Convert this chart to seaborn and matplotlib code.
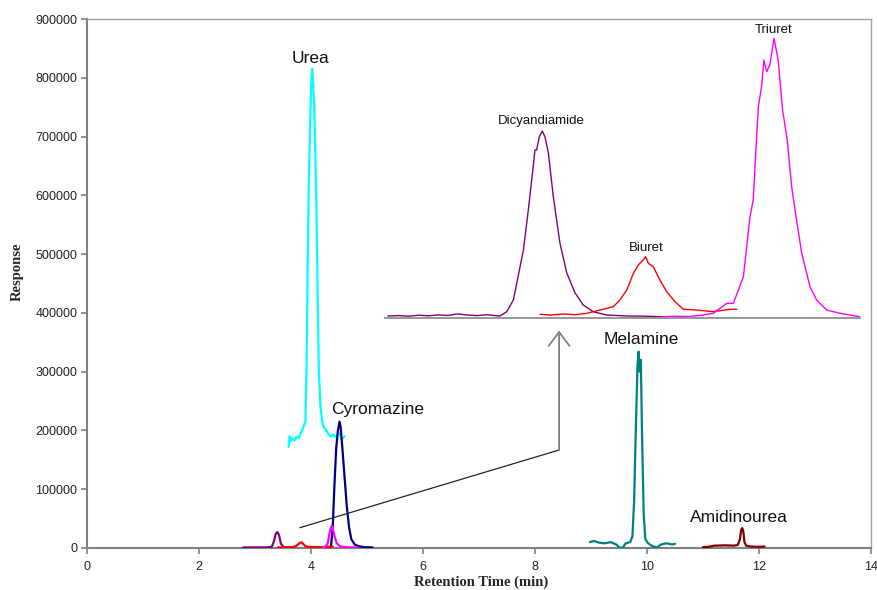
import matplotlib
matplotlib.use("Agg")
import matplotlib.pyplot as plt
import seaborn as sns
import pandas as pd

# ---------------- main chromatogram data (min, response) ----------------
urea_x = [3.60, 3.62, 3.64, 3.66, 3.70, 3.74, 3.78, 3.82, 3.86, 3.90, 3.92, 3.94, 3.96, 3.98,
          4.00, 4.02, 4.04, 4.06, 4.08, 4.10, 4.12, 4.14, 4.17, 4.20, 4.23, 4.27, 4.31, 4.35,
          4.40, 4.45, 4.50, 4.55, 4.60]
urea_y = [172000, 190000, 181000, 187000, 183000, 189000, 187000, 196000, 205000, 215000, 300000,
          480000, 620000, 700000, 780000, 815000, 790000, 740000, 660000, 560000, 420000, 300000,
          240000, 215000, 205000, 200000, 194000, 190000, 193000, 188000, 196000, 185000, 190000]

cyro_x = [4.33, 4.36, 4.39, 4.42, 4.45, 4.48, 4.51, 4.53, 4.56, 4.60, 4.64, 4.68, 4.72, 4.78,
          4.85, 4.95, 5.10]
cyro_y = [0, 5000, 40000, 110000, 170000, 200000, 215000, 205000, 170000, 120000, 70000, 35000,
          15000, 6000, 3000, 1500, 1000]

dicy_x = [2.79, 3.00, 3.20, 3.30, 3.34, 3.37, 3.40, 3.43, 3.46, 3.50, 3.55, 3.62]
dicy_y = [1000, 1000, 1000, 2000, 12000, 24000, 27000, 22000, 8000, 2500, 1000, 1000]

biuret_x = [3.41, 3.55, 3.65, 3.72, 3.77, 3.80, 3.83, 3.86, 3.90, 3.95, 4.05, 4.20, 4.39]
biuret_y = [1000, 1000, 1500, 2500, 6000, 9000, 9500, 7000, 3000, 2000, 1500, 1500, 2500]

triuret_x = [4.21, 4.26, 4.30, 4.33, 4.35, 4.37, 4.39, 4.42, 4.46, 4.52, 4.60, 4.70, 4.84]
triuret_y = [1000, 2500, 8000, 25000, 33000, 38000, 33000, 20000, 8000, 3000, 1500, 1000, 1000]

mel_x = [8.98, 9.05, 9.15, 9.25, 9.35, 9.45, 9.52, 9.57, 9.62, 9.70, 9.74, 9.77, 9.80, 9.83,
         9.85, 9.87, 9.89, 9.91, 9.94, 9.97, 10.02, 10.10, 10.18, 10.25, 10.35, 10.45, 10.50]
mel_y = [10000, 12000, 9000, 8000, 10000, 6000, 0, 1000, 8000, 10000, 20000, 80000, 200000,
         310000, 334000, 300000, 320000, 200000, 60000, 15000, 8000, 3000, 1000, 6000, 8000,
         6000, 7000]

amid_x = [11.00, 11.10, 11.20, 11.40, 11.55, 11.62, 11.66, 11.68, 11.70, 11.72, 11.74, 11.77,
          11.85, 12.00, 12.10]
amid_y = [1500, 2000, 4000, 4500, 4000, 5000, 15000, 30000, 34000, 28000, 10000, 4000, 2500,
          2000, 2500]

# ---------------- inset (zoomed early region) data ----------------
in_dicy_x = [2.775, 2.82, 2.86, 2.90, 2.94, 2.98, 3.02, 3.06, 3.10, 3.14, 3.18, 3.22, 3.232,
             3.260, 3.287, 3.328, 3.348, 3.368, 3.375, 3.382, 3.393, 3.405, 3.416, 3.430,
             3.450, 3.477, 3.505, 3.539, 3.572, 3.613, 3.668, 3.750, 3.82, 3.898]
in_dicy_y = [273, 330, 250, 380, 300, 420, 350, 560, 400, 330, 450, 300, 273, 860, 2457, 9283,
             14744, 20655, 22935, 22935, 24750, 25530, 24750, 22525, 16560, 10239, 6143, 3413,
             1775, 860, 410, 273, 250, 177]

in_biur_x = [3.396, 3.44, 3.49, 3.54, 3.586, 3.641, 3.695, 3.722, 3.750, 3.777, 3.797, 3.817,
             3.827, 3.838, 3.858, 3.885, 3.913, 3.947, 3.981, 4.035, 4.103, 4.171, 4.199]
in_biur_y = [505, 400, 550, 450, 640, 1092, 1543, 2457, 3822, 6102, 7235, 7918, 8370, 7467,
             7004, 5188, 3590, 2225, 1188, 1092, 860, 1188, 1188]

in_triu_x = [3.899, 3.95, 4.00, 4.05, 4.103, 4.158, 4.185, 4.226, 4.253, 4.266, 4.287, 4.300,
             4.310, 4.321, 4.334, 4.351, 4.368, 4.386, 4.405, 4.423, 4.443, 4.464, 4.498, 4.525,
             4.566, 4.620, 4.66, 4.702]
in_triu_y = [177, 250, 200, 350, 640, 2000, 2000, 5638, 13830, 16110, 28850, 31580, 35220,
             33630, 34540, 38180, 35220, 28400, 24300, 17920, 13380, 8830, 4270, 2457, 1092,
             640, 400, 177]

# labels
main_labels = ["Urea", "Cyromazine", "Melamine", "Amidinourea"]
main_label_x = [4.0, 5.19, 9.90, 11.65]
main_label_y = [833000, 236000, 355000, 51500]

inset_labels = ["Dicyandiamide", "Biuret", "Triuret"]
inset_label_x = [3.40, 3.828, 4.351]
inset_label_y = [26900, 9560, 39300]

x_ticks = [0, 2, 4, 6, 8, 10, 12, 14]
y_ticks = [0, 100000, 200000, 300000, 400000, 500000, 600000, 700000, 800000, 900000]

# ---------------- figure ----------------
sns.set_style("white")
plt.rcParams["font.family"] = ["Liberation Sans", "DejaVu Sans"]

fig = plt.figure(figsize=(8.78, 5.90), dpi=100)
ax = fig.add_axes([87 / 878, 1 - 548 / 590, (871 - 87) / 878, (548 - 19) / 590])

main_series = [
    (urea_x, urea_y, "#00FFFF"),
    (cyro_x, cyro_y, "#000080"),
    (dicy_x, dicy_y, "#800080"),
    (biuret_x, biuret_y, "#FF0000"),
    (triuret_x, triuret_y, "#FF00FF"),
    (mel_x, mel_y, "#008080"),
    (amid_x, amid_y, "#800000"),
]
for xs, ys, col in main_series:
    df = pd.DataFrame({"t": xs, "r": ys})
    sns.lineplot(data=df, x="t", y="r", ax=ax, color=col, linewidth=1.6, sort=False,
                 estimator=None, zorder=3)

ax.set_xlim(0, 14)
ax.set_ylim(0, 900000)
ax.set_xticks(x_ticks)
ax.set_yticks(y_ticks)
ax.set_xticklabels([str(v) for v in x_ticks])
ax.set_yticklabels([str(v) for v in y_ticks])
ax.set_xlabel("")
ax.set_ylabel("")
ax.tick_params(axis="both", which="major", labelsize=9, colors="#808080",
               labelcolor="#222222", length=4, width=1.2, direction="out",
               bottom=True, left=True)
ax.tick_params(axis="x", pad=5)
ax.tick_params(axis="y", pad=3)
for side in ["left", "bottom"]:
    ax.spines[side].set_color("#808080")
    ax.spines[side].set_linewidth(1.5)
for side in ["top", "right"]:
    ax.spines[side].set_color("#A0A0A0")
    ax.spines[side].set_linewidth(1.0)

for txt, lx, ly in zip(main_labels, main_label_x, main_label_y):
    ax.text(lx, ly, txt, ha="center", va="center", fontsize=12.5, color="#111111")

# pointer: diagonal line + vertical arrow
ax.plot([3.80, 8.43], [34500, 166700], color="#222222", linewidth=0.9)
ax.annotate("", xy=(8.43, 370000), xytext=(8.43, 166700),
            arrowprops=dict(arrowstyle="->,head_length=1.0,head_width=0.75",
                            color="#808080", linewidth=1.3, shrinkA=0, shrinkB=0))

fig.text(17 / 878, 1 - 272 / 590, "Response", rotation=90, ha="center", va="center",
         fontsize=10.5, fontweight="bold", family=["Liberation Serif", "DejaVu Serif"])
fig.text(481 / 878, 1 - 582 / 590, "Retention Time (min)", ha="center", va="center",
         fontsize=10.5, fontweight="bold", family=["Liberation Serif", "DejaVu Serif"])

# ---------------- inset ----------------
ins = fig.add_axes([385 / 878, 1 - 318 / 590, (860 - 385) / 878, (318 - 25) / 590])
ins.patch.set_alpha(0)
inset_series = [
    (in_dicy_x, in_dicy_y, "#800080"),
    (in_biur_x, in_biur_y, "#FF0000"),
    (in_triu_x, in_triu_y, "#FF00FF"),
]
for xs, ys, col in inset_series:
    df = pd.DataFrame({"t": xs, "r": ys})
    sns.lineplot(data=df, x="t", y="r", ax=ins, color=col, linewidth=1.0, sort=False,
                 estimator=None)
ins.set_xlim(2.763, 4.702)
ins.set_ylim(0, 40000)
ins.set_xticks([])
ins.set_yticks([])
ins.set_xlabel("")
ins.set_ylabel("")
for side in ["left", "top", "right"]:
    ins.spines[side].set_visible(False)
ins.spines["bottom"].set_color("#909090")
ins.spines["bottom"].set_linewidth(1.3)
for txt, lx, ly in zip(inset_labels, inset_label_x, inset_label_y):
    ins.text(lx, ly, txt, ha="center", va="center", fontsize=9.5, color="#111111",
             clip_on=False)

fig.savefig("out.png", dpi=100)
